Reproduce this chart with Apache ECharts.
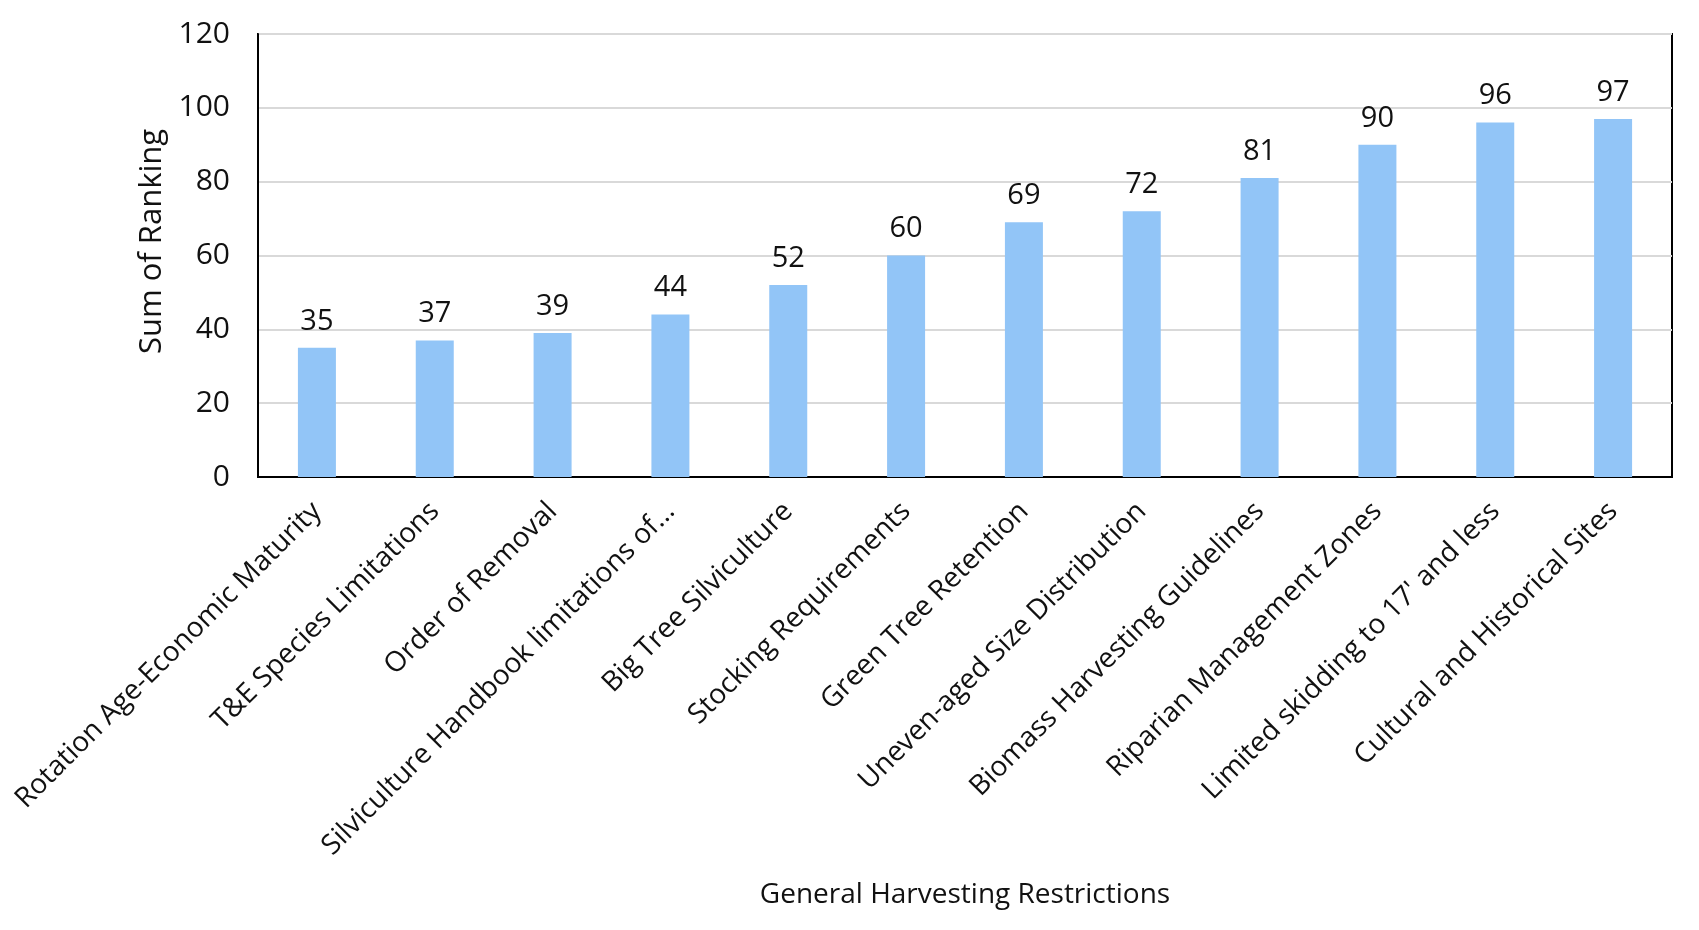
<!DOCTYPE html>
<html>
<head>
<meta charset="utf-8">
<script src="https://cdn.jsdelivr.net/npm/echarts@6/dist/echarts.min.js"></script>
<style>
html,body{margin:0;padding:0;background:#fff;}
#chart{width:1699px;height:930px;}
</style>
</head>
<body>
<div id="chart"></div>
<script>
const categories = [
  "Rotation Age-Economic Maturity",
  "T&E Species Limitations",
  "Order of Removal",
  "Silviculture Handbook limitations of...",
  "Big Tree Silviculture",
  "Stocking Requirements",
  "Green Tree Retention",
  "Uneven-aged Size Distribution",
  "Biomass Harvesting Guidelines",
  "Riparian Management Zones",
  "Limited skidding to 17' and less",
  "Cultural and Historical Sites"
];
const values = [35, 37, 39, 44, 52, 60, 69, 72, 81, 90, 96, 97];
const yTicks = [0, 20, 40, 60, 80, 100, 120];

const FONT = "Open Sans";
const chart = echarts.init(document.getElementById('chart'));
chart.setOption({
  backgroundColor: '#ffffff',
  animation: false,
  grid: {
    left: 258, top: 34, width: 1414, height: 443,
    show: true, borderColor: '#000', borderWidth: 2, backgroundColor: 'transparent'
  },
  xAxis: {
    type: 'category',
    data: categories,
    name: 'General Harvesting Restrictions',
    nameLocation: 'middle',
    nameGap: 404,
    nameTextStyle: { fontFamily: FONT, fontSize: 28, color: '#111', verticalAlign: 'top' },
    axisLine: { show: true, lineStyle: { color: '#000', width: 2 } },
    axisTick: { show: false },
    axisLabel: { rotate: 45, fontFamily: FONT, fontSize: 28, color: '#111', margin: 30, interval: 0 }
  },
  yAxis: {
    type: 'value',
    min: yTicks[0], max: yTicks[yTicks.length - 1], interval: 20,
    name: 'Sum of Ranking',
    nameLocation: 'middle',
    nameGap: 88,
    nameRotate: 90,
    nameTextStyle: { fontFamily: FONT, fontSize: 31, color: '#111', padding: [0, 0, 0, 28] },
    axisLine: { show: true, lineStyle: { color: '#000', width: 2 } },
    axisTick: { show: false },
    axisLabel: { fontFamily: FONT, fontSize: 30, color: '#111', margin: 28 },
    splitLine: { show: true, lineStyle: { color: '#d9d9d9', width: 2 } }
  },
  series: [{
    type: 'bar',
    data: values,
    barWidth: 38,
    itemStyle: { color: '#92C5F7' },
    label: { show: true, position: 'top', distance: 12, fontFamily: FONT, fontSize: 29, color: '#111' }
  }]
});
</script>
</body>
</html>
